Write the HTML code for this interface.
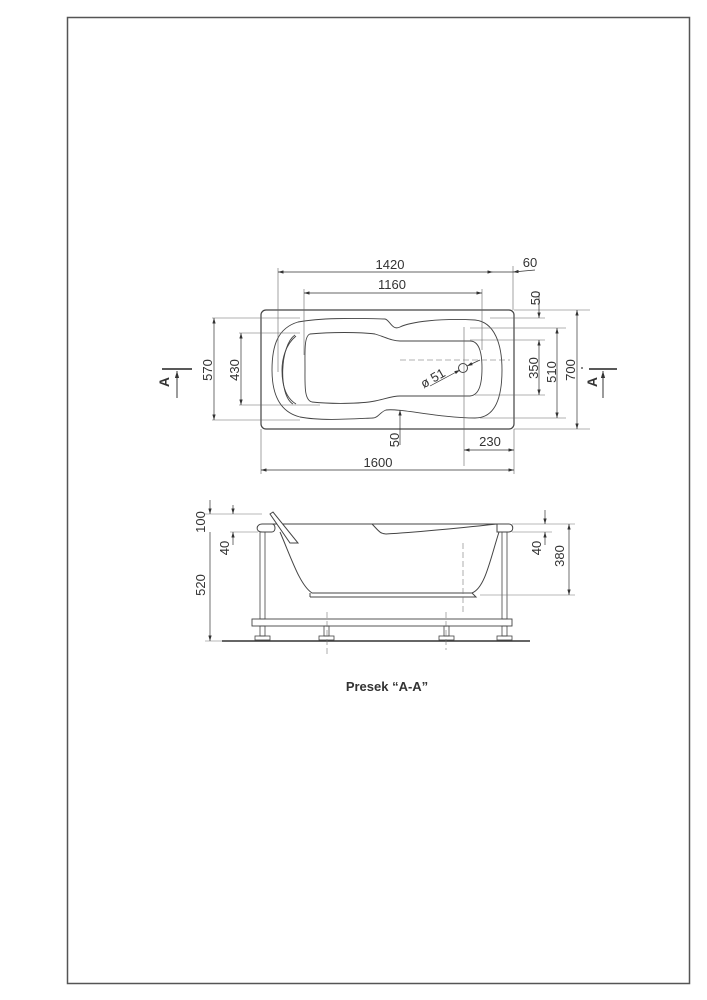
<!DOCTYPE html>
<html><head><meta charset="utf-8"><style>
html,body{margin:0;padding:0;background:#fff;}
svg{display:block;}
text{font-family:"Liberation Sans",Arial,sans-serif;fill:#333;}
</style></head><body>
<svg width="707" height="1000" viewBox="0 0 707 1000" xmlns="http://www.w3.org/2000/svg">
<defs>
<marker id="a" viewBox="0 0 10 6" refX="10" refY="3" markerWidth="8" markerHeight="5" orient="auto-start-reverse"><path d="M0,0L10,3L0,6z" fill="#333"/></marker>
</defs>
<rect x="67.5" y="17.5" width="622" height="966" fill="none" stroke="#555" stroke-width="1.5"/>

<g fill="none" stroke="#444" stroke-width="0.9">
<rect x="261" y="310" width="253" height="119" rx="5" stroke-width="1.2"/>
<path d="M385,319 C350,318 320,318 298,322 C278,328 272,345 272,370 C272,395 280,412 300,417 C320,421 350,419 373,418 C378,418 380,412 386,410 C400,408 440,418 475,418 C495,418 502,398 502,370 C502,345 495,322 475,320 C440,318 410,322 400,327 C392,331 390,320 385,319 Z"/>
<path d="M296,336 C285,345 282,360 282,370 C282,385 286,398 296,404"/>
<path d="M295,335 C280,345 278,395 293,404"/>
<path d="M310,334 C330,332 360,332 375,334 C385,337 392,341 400,341 L470,341 C480,341 482,355 482,368 C482,382 480,395 470,396 L400,396 C392,396 385,399 375,401 C360,404 330,404 312,402 C304,400 305,385 305,368 C305,352 304,336 310,334 Z"/>
</g>
<circle cx="463" cy="368" r="4.5" fill="#fff" stroke="#444" stroke-width="1"/>
<g stroke="#666" stroke-width="0.6" fill="none">
<line x1="278" y1="268" x2="278" y2="372"/>
<line x1="304" y1="289" x2="304" y2="355"/>
<line x1="482" y1="289" x2="482" y2="350"/>
<line x1="513" y1="266" x2="513" y2="310"/>
<line x1="261" y1="429" x2="261" y2="474"/>
<line x1="514" y1="429" x2="514" y2="474"/>
<line x1="464" y1="327" x2="464" y2="466"/>
<line x1="514" y1="310" x2="590" y2="310"/>
<line x1="490" y1="318" x2="545" y2="318"/>
<line x1="470" y1="328" x2="566" y2="328"/>
<line x1="470" y1="340" x2="545" y2="340"/>
<line x1="475" y1="395" x2="545" y2="395"/>
<line x1="480" y1="418" x2="566" y2="418"/>
<line x1="514" y1="429" x2="590" y2="429"/>
<line x1="212" y1="318" x2="300" y2="318"/>
<line x1="212" y1="420" x2="300" y2="420"/>
<line x1="239" y1="333" x2="300" y2="333"/>
<line x1="239" y1="405" x2="320" y2="405"/>
<line x1="400" y1="360" x2="510" y2="360" stroke-dasharray="6,3"/>
</g>
<g stroke="#333" stroke-width="0.7" fill="none">
<line x1="278" y1="272" x2="493" y2="272" marker-start="url(#a)" marker-end="url(#a)"/>
<line x1="493" y1="272" x2="513" y2="272"/>
<line x1="513" y1="272" x2="535" y2="270" marker-start="url(#a)"/>
<line x1="304" y1="293" x2="482" y2="293" marker-start="url(#a)" marker-end="url(#a)"/>
<line x1="539" y1="292" x2="539" y2="318" marker-end="url(#a)"/>
<line x1="539" y1="340" x2="539" y2="395" marker-start="url(#a)" marker-end="url(#a)"/>
<line x1="557" y1="328" x2="557" y2="418" marker-start="url(#a)" marker-end="url(#a)"/>
<line x1="577" y1="310" x2="577" y2="429" marker-start="url(#a)" marker-end="url(#a)"/>
<line x1="214" y1="318" x2="214" y2="420" marker-start="url(#a)" marker-end="url(#a)"/>
<line x1="241" y1="333" x2="241" y2="405" marker-start="url(#a)" marker-end="url(#a)"/>
<line x1="400" y1="445" x2="400" y2="410" marker-end="url(#a)"/>
<line x1="464" y1="450" x2="514" y2="450" marker-start="url(#a)" marker-end="url(#a)"/>
<line x1="261" y1="470" x2="514" y2="470" marker-start="url(#a)" marker-end="url(#a)"/>
<line x1="430" y1="386" x2="460" y2="370" marker-end="url(#a)"/>
<line x1="480" y1="360" x2="467" y2="366" marker-end="url(#a)"/>
</g>
<g font-size="13">
<text x="390" y="269" text-anchor="middle">1420</text>
<text x="530" y="267" text-anchor="middle">60</text>
<text x="392" y="289" text-anchor="middle">1160</text>
<text x="378" y="467" text-anchor="middle">1600</text>
<text x="490" y="446" text-anchor="middle">230</text>
<text transform="translate(540,298) rotate(-90)" text-anchor="middle">50</text>
<text transform="translate(538,368) rotate(-90)" text-anchor="middle">350</text>
<text transform="translate(556,372) rotate(-90)" text-anchor="middle">510</text>
<text transform="translate(575,370) rotate(-90)" text-anchor="middle">700</text>
<text transform="translate(212,370) rotate(-90)" text-anchor="middle">570</text>
<text transform="translate(239,370) rotate(-90)" text-anchor="middle">430</text>
<text transform="translate(399,440) rotate(-90)" text-anchor="middle">50</text>
<text transform="translate(435,382) rotate(-30)" text-anchor="middle">ø 51</text>
</g>
<!-- A markers -->
<g stroke="#222" stroke-width="1.4">
<line x1="162" y1="369" x2="192" y2="369"/>
<line x1="589" y1="369" x2="617" y2="369"/>
</g>
<line x1="177" y1="398" x2="177" y2="371" stroke="#222" stroke-width="0.9" marker-end="url(#a)"/>
<line x1="603" y1="398" x2="603" y2="371" stroke="#222" stroke-width="0.9" marker-end="url(#a)"/>
<text transform="translate(169,382) rotate(-90)" text-anchor="middle" font-size="14" font-weight="bold">A</text>
<text transform="translate(597,382) rotate(-90)" text-anchor="middle" font-size="14" font-weight="bold">A</text>
<circle cx="582" cy="368" r="0.9" fill="#333"/>

<g fill="none" stroke="#444" stroke-width="1">
<path d="M262,532 C255,532 256,524 262,524 L272,524 C276,524 276,532 272,532 Z" fill="#fff"/>
<path d="M497,524 L509,524 C514,524 514,532 509,532 L497,532 Z" fill="#fff"/>
<line x1="272" y1="524" x2="497" y2="524"/>
<path d="M372,524 C378,530 380,534 386,534 C420,532 460,528 497,524"/>
<path d="M280,532 C292,560 300,585 312,593 L472,593 C485,588 490,560 499,532"/>
<path d="M310,597 L476,597 L472,593"/>
<line x1="310" y1="593" x2="310" y2="597"/>
<path d="M270,514 L273,512 L298,543 L290,543 Z" fill="#fff"/>
<rect x="260" y="532" width="5" height="87" stroke-width="0.8"/>
<rect x="502" y="532" width="5" height="87" stroke-width="0.8"/>
<rect x="252" y="619" width="260" height="7" stroke-width="0.9"/>
<rect x="260" y="626" width="5" height="10" stroke-width="0.8"/>
<rect x="502" y="626" width="5" height="10" stroke-width="0.8"/>
<rect x="324" y="626" width="5" height="10" stroke-width="0.8"/>
<rect x="444" y="626" width="5" height="10" stroke-width="0.8"/>
<rect x="255" y="636" width="15" height="4" stroke-width="0.8"/>
<rect x="497" y="636" width="15" height="4" stroke-width="0.8"/>
<rect x="319" y="636" width="15" height="4" stroke-width="0.8"/>
<rect x="439" y="636" width="15" height="4" stroke-width="0.8"/>
</g>
<line x1="222" y1="641" x2="530" y2="641" stroke="#333" stroke-width="1.6"/>
<g stroke="#777" stroke-width="0.6" fill="none">
<line x1="463" y1="543" x2="463" y2="612" stroke-dasharray="6,3"/>
<line x1="327" y1="612" x2="327" y2="656" stroke-dasharray="6,3"/>
<line x1="446" y1="612" x2="446" y2="650" stroke-dasharray="6,3"/>
<line x1="205" y1="514" x2="262" y2="514"/>
<line x1="230" y1="532" x2="258" y2="532"/>
<line x1="205" y1="641" x2="222" y2="641"/>
<line x1="512" y1="524" x2="575" y2="524"/>
<line x1="512" y1="532" x2="552" y2="532"/>
<line x1="480" y1="595" x2="575" y2="595"/>
</g>
<g stroke="#333" stroke-width="0.7" fill="none">
<line x1="210" y1="500" x2="210" y2="514" marker-end="url(#a)"/>
<line x1="210" y1="532" x2="210" y2="641" marker-end="url(#a)"/>
<line x1="233" y1="505" x2="233" y2="514" marker-end="url(#a)"/>
<line x1="233" y1="545" x2="233" y2="532" marker-end="url(#a)"/>
<line x1="545" y1="510" x2="545" y2="524" marker-end="url(#a)"/>
<line x1="545" y1="545" x2="545" y2="532" marker-end="url(#a)"/>
<line x1="569" y1="524" x2="569" y2="595" marker-start="url(#a)" marker-end="url(#a)"/>
</g>
<g font-size="13">
<text transform="translate(205,522) rotate(-90)" text-anchor="middle">100</text>
<text transform="translate(229,548) rotate(-90)" text-anchor="middle">40</text>
<text transform="translate(205,585) rotate(-90)" text-anchor="middle">520</text>
<text transform="translate(541,548) rotate(-90)" text-anchor="middle">40</text>
<text transform="translate(564,556) rotate(-90)" text-anchor="middle">380</text>
</g>
<text x="387" y="691" text-anchor="middle" font-size="13" font-weight="bold">Presek “A-A”</text>
</svg>
</body></html>
